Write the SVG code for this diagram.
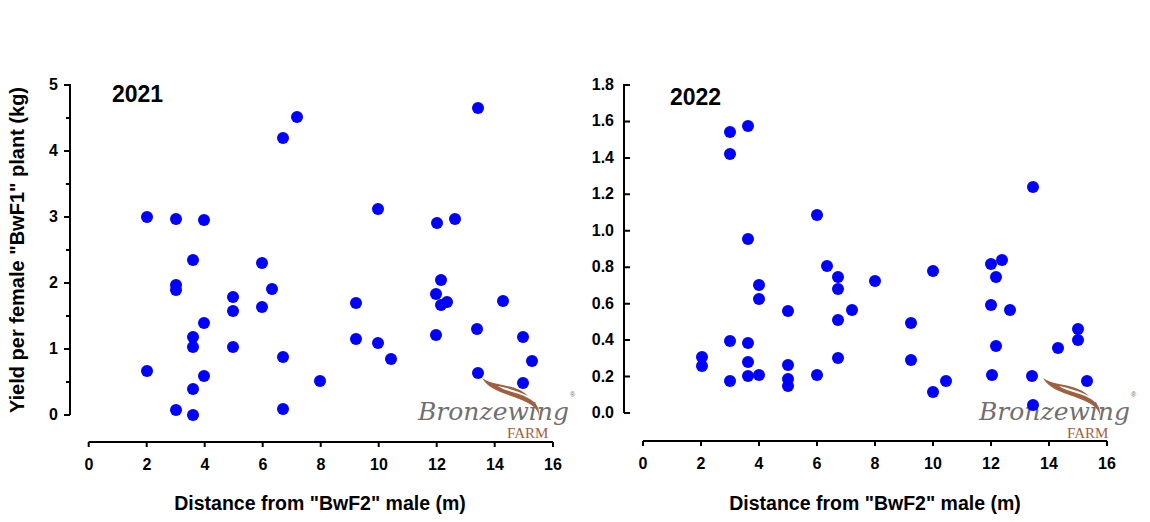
<svg xmlns="http://www.w3.org/2000/svg" width="1150" height="522" viewBox="0 0 1150 522">
<style>
text{font-family:"Liberation Sans",Arial,sans-serif;font-weight:bold;fill:#000}
.tk{font-size:16px}
.ttl{font-size:19.5px}
.yl{font-size:20px}
.yr{font-size:23px}
.ax{stroke:#000;stroke-width:2;fill:none}
.d{fill:#0000ff}
.logo{font-family:"DejaVu Serif",serif;font-style:italic;font-weight:normal;fill:#707070;font-size:25px}
.farm{font-family:"Liberation Serif",serif;font-weight:normal;fill:#a0603f;font-size:15px}
.reg{font-weight:normal;fill:#707070;font-size:7px}
.sw{fill:#a0603f}
</style>
<defs>
<circle id="p" r="6" class="d"/>
<path id="wing" class="sw" d="M0,0 C8,14 28,16 44,24 C52,28 56,32 57,38 C58,30 54,24 46,20 C36,14 24,14 16,8 C26,10 38,14 46,18 C38,10 26,8 16,6 C10,5 4,3 0,0Z"/>
</defs>
<g id="left-plot">
<path class="ax" d="M70,84V415M64,85H70M64,151H70M64,217H70M64,283H70M64,349H70M64,415H70M66,118H70M66,184H70M66,250H70M66,316H70M66,382H70"/>
<g class="tk" text-anchor="end">
<text x="58" y="90">5</text><text x="58" y="156">4</text><text x="58" y="222">3</text><text x="58" y="288">2</text><text x="58" y="354">1</text><text x="58" y="420">0</text>
</g>
<path class="ax" d="M88.7,442H553M88.7,442v5M146.7,442v5M204.7,442v5M262.7,442v5M320.7,442v5M378.7,442v5M436.7,442v5M494.7,442v5M553,442v5"/>
<g class="tk" text-anchor="middle">
<text x="89" y="470">0</text><text x="147" y="470">2</text><text x="205" y="470">4</text><text x="263" y="470">6</text><text x="321" y="470">8</text><text x="379" y="470">10</text><text x="437" y="470">12</text><text x="495" y="470">14</text><text x="553" y="470">16</text>
</g>
<text class="ttl" x="320" y="510" text-anchor="middle">Distance from "BwF2" male (m)</text>
<text class="yl" transform="translate(24,250) rotate(-90)" text-anchor="middle">Yield per female "BwF1" plant (kg)</text>
<text class="yr" x="112" y="102">2021</text>
<g id="left-logo">
<use href="#wing" x="482" y="378"/>
<text class="logo" x="418" y="420">Bronzewing</text>
<text class="farm" x="507" y="438">FARM</text>
<text class="reg" x="570" y="397">®</text>
</g>
<g>
<use href="#p" x="147" y="217"/><use href="#p" x="147" y="371"/><use href="#p" x="176" y="285"/><use href="#p" x="176" y="290"/><use href="#p" x="176" y="410"/><use href="#p" x="176" y="219"/><use href="#p" x="193" y="260"/><use href="#p" x="193" y="337"/><use href="#p" x="193" y="347"/><use href="#p" x="193" y="389"/><use href="#p" x="193" y="415"/><use href="#p" x="204" y="220"/><use href="#p" x="204" y="323"/><use href="#p" x="204" y="376"/><use href="#p" x="233" y="297"/><use href="#p" x="233" y="311"/><use href="#p" x="233" y="347"/><use href="#p" x="262" y="263"/><use href="#p" x="262" y="307"/><use href="#p" x="272" y="289"/><use href="#p" x="283" y="138"/><use href="#p" x="297" y="117"/><use href="#p" x="283" y="357"/><use href="#p" x="283" y="409"/><use href="#p" x="320" y="381"/>
<use href="#p" x="478" y="108"/><use href="#p" x="378" y="209"/><use href="#p" x="437" y="223"/><use href="#p" x="455" y="219"/><use href="#p" x="441" y="280"/><use href="#p" x="436" y="294"/><use href="#p" x="441" y="305"/><use href="#p" x="447" y="302"/><use href="#p" x="503" y="301"/><use href="#p" x="356" y="303"/><use href="#p" x="356" y="339"/><use href="#p" x="378" y="343"/><use href="#p" x="391" y="359"/><use href="#p" x="436" y="335"/><use href="#p" x="477" y="329"/><use href="#p" x="523" y="337"/><use href="#p" x="532" y="361"/><use href="#p" x="478" y="373"/><use href="#p" x="523" y="383"/>
</g>
</g>
<g id="right-plot">
<path class="ax" d="M624,84V413M624,85H630M624,121.4H630M624,157.9H630M624,194.3H630M624,230.8H630M624,267.2H630M624,303.7H630M624,340.1H630M624,376.6H630M624,413H630"/>
<g class="tk" text-anchor="end">
<text x="614" y="90">1.8</text><text x="614" y="126.4">1.6</text><text x="614" y="162.9">1.4</text><text x="614" y="199.3">1.2</text><text x="614" y="235.8">1.0</text><text x="614" y="272.2">0.8</text><text x="614" y="308.7">0.6</text><text x="614" y="345.1">0.4</text><text x="614" y="381.6">0.2</text><text x="614" y="418">0.0</text>
</g>
<path class="ax" d="M643,441H1107M643,441v5M701,441v5M759,441v5M817,441v5M875,441v5M933,441v5M991,441v5M1049,441v5M1107,441v5"/>
<g class="tk" text-anchor="middle">
<text x="643" y="469">0</text><text x="701" y="469">2</text><text x="759" y="469">4</text><text x="817" y="469">6</text><text x="875" y="469">8</text><text x="933" y="469">10</text><text x="991" y="469">12</text><text x="1049" y="469">14</text><text x="1107" y="469">16</text>
</g>
<text class="ttl" x="875" y="510" text-anchor="middle">Distance from "BwF2" male (m)</text>
<text class="yr" x="670" y="105">2022</text>
<g id="right-logo">
<use href="#wing" x="1043" y="378"/>
<text class="logo" x="979" y="420">Bronzewing</text>
<text class="farm" x="1067" y="438">FARM</text>
<text class="reg" x="1131" y="397">®</text>
</g>
<g>
<use href="#p" x="730" y="132"/><use href="#p" x="748" y="126"/><use href="#p" x="730" y="154"/><use href="#p" x="817" y="215"/><use href="#p" x="748" y="239"/><use href="#p" x="827" y="266"/><use href="#p" x="838" y="277"/><use href="#p" x="838" y="289"/><use href="#p" x="875" y="281"/><use href="#p" x="759" y="285"/><use href="#p" x="759" y="299"/><use href="#p" x="788" y="311"/><use href="#p" x="852" y="310"/><use href="#p" x="838" y="320"/><use href="#p" x="730" y="341"/><use href="#p" x="748" y="343"/><use href="#p" x="702" y="357"/><use href="#p" x="702" y="366"/><use href="#p" x="748" y="362"/><use href="#p" x="788" y="365"/><use href="#p" x="838" y="358"/><use href="#p" x="748" y="376"/><use href="#p" x="759" y="375"/><use href="#p" x="730" y="381"/><use href="#p" x="788" y="379"/><use href="#p" x="788" y="386"/><use href="#p" x="817" y="375"/>
<use href="#p" x="1033" y="187"/><use href="#p" x="933" y="271"/><use href="#p" x="991" y="264"/><use href="#p" x="1002" y="260"/><use href="#p" x="996" y="277"/><use href="#p" x="991" y="305"/><use href="#p" x="1010" y="310"/><use href="#p" x="911" y="323"/><use href="#p" x="1078" y="329"/><use href="#p" x="1078" y="340"/><use href="#p" x="996" y="346"/><use href="#p" x="1058" y="348"/><use href="#p" x="911" y="360"/><use href="#p" x="992" y="375"/><use href="#p" x="1032" y="376"/><use href="#p" x="1087" y="381"/><use href="#p" x="946" y="381"/><use href="#p" x="933" y="392"/><use href="#p" x="1033" y="405"/>
</g>
</g>
</svg>
